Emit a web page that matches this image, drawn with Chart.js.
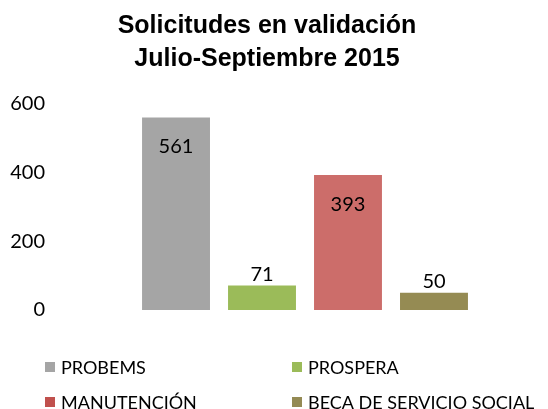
<!DOCTYPE html>
<html>
<head>
<meta charset="utf-8">
<script src="https://cdn.jsdelivr.net/npm/chart.js@4/dist/chart.umd.min.js"></script>
<style>
  html, body { margin: 0; padding: 0; background: #fff; }
  #wrap { width: 548px; height: 409px; }
</style>
</head>
<body>
<div id="wrap"><canvas id="chart"></canvas></div>
<script>
const titleLines = ['Solicitudes en validación', 'Julio-Septiembre 2015'];
const categories = [''];
const programs = ['PROBEMS', 'PROSPERA', 'MANUTENCIÓN', 'BECA DE SERVICIO SOCIAL'];
const values = [561, 71, 393, 50];
const barColors = ['#a5a5a5', '#9bbb59', '#cc6d6a', '#958b53'];
const legendColors = ['#a5a5a5', '#9bbb59', '#c0504d', '#948a54'];
const yTicks = [0, 200, 400, 600];

const labelFont = '20px Lato, "Liberation Sans", sans-serif';

// value labels: inside the top of tall bars, above short ones
const valueLabels = {
    id: 'valueLabels',
    afterDatasetsDraw(chart) {
        const ctx = chart.ctx;
        ctx.save();
        ctx.font = labelFont;
        ctx.fillStyle = '#000';
        ctx.textAlign = 'center';
        ctx.textBaseline = 'middle';
        chart.data.datasets.forEach((ds, i) => {
            const bar = chart.getDatasetMeta(i).data[0];
            const v = ds.data[0];
            const y = v > 200 ? bar.y + 29 : bar.y - 11;
            ctx.fillText(String(v), bar.x, y);
        });
        ctx.restore();
    }
};

// two-column legend under the plot
const gridLegend = {
    id: 'gridLegend',
    afterDraw(chart) {
        const ctx = chart.ctx;
        const cols = [45, 292];
        const rows = [367, 402];
        ctx.save();
        ctx.font = '18px Lato, "Liberation Sans", sans-serif';
        ctx.textBaseline = 'middle';
        ctx.textAlign = 'left';
        chart.data.datasets.forEach((ds, i) => {
            const x = cols[i % 2];
            const y = rows[Math.floor(i / 2)];
            ctx.fillStyle = legendColors[i];
            ctx.fillRect(x, y - 5, 10, 10);
            ctx.fillStyle = '#000';
            ctx.fillText(ds.label, x + 16, y + 1);
        });
        ctx.restore();
    }
};

new Chart(document.getElementById('chart'), {
    type: 'bar',
    data: {
        labels: categories,
        datasets: programs.map((p, i) => ({
            label: p,
            data: [values[i]],
            backgroundColor: barColors[i],
            borderWidth: 0,
            categoryPercentage: 0.751,
            barPercentage: 0.79,
        }))
    },
    options: {
        responsive: true,
        maintainAspectRatio: false,
        animation: false,
        layout: {
            padding: { top: 9, right: 14, bottom: 99, left: 0 }
        },
        plugins: {
            legend: { display: false },
            tooltip: { enabled: false },
            title: {
                display: true,
                text: titleLines,
                color: '#000',
                font: { family: '"Liberation Sans", Arial, sans-serif', size: 25, weight: 'bold', lineHeight: 1.33 },
                padding: { top: 0, bottom: 28.5 }
            }
        },
        scales: {
            x: { display: false },
            y: {
                min: 0,
                max: 600,
                afterBuildTicks: (axis) => { axis.ticks = yTicks.map(v => ({ value: v })); },
                afterFit: (axis) => { axis.width = 76; },
                border: { display: false },
                grid: { display: false, drawTicks: false },
                ticks: {
                    color: '#000',
                    padding: 31,
                    font: { family: 'Lato, "Liberation Sans", sans-serif', size: 20 }
                }
            }
        }
    },
    plugins: [valueLabels, gridLegend]
});
</script>
</body>
</html>
